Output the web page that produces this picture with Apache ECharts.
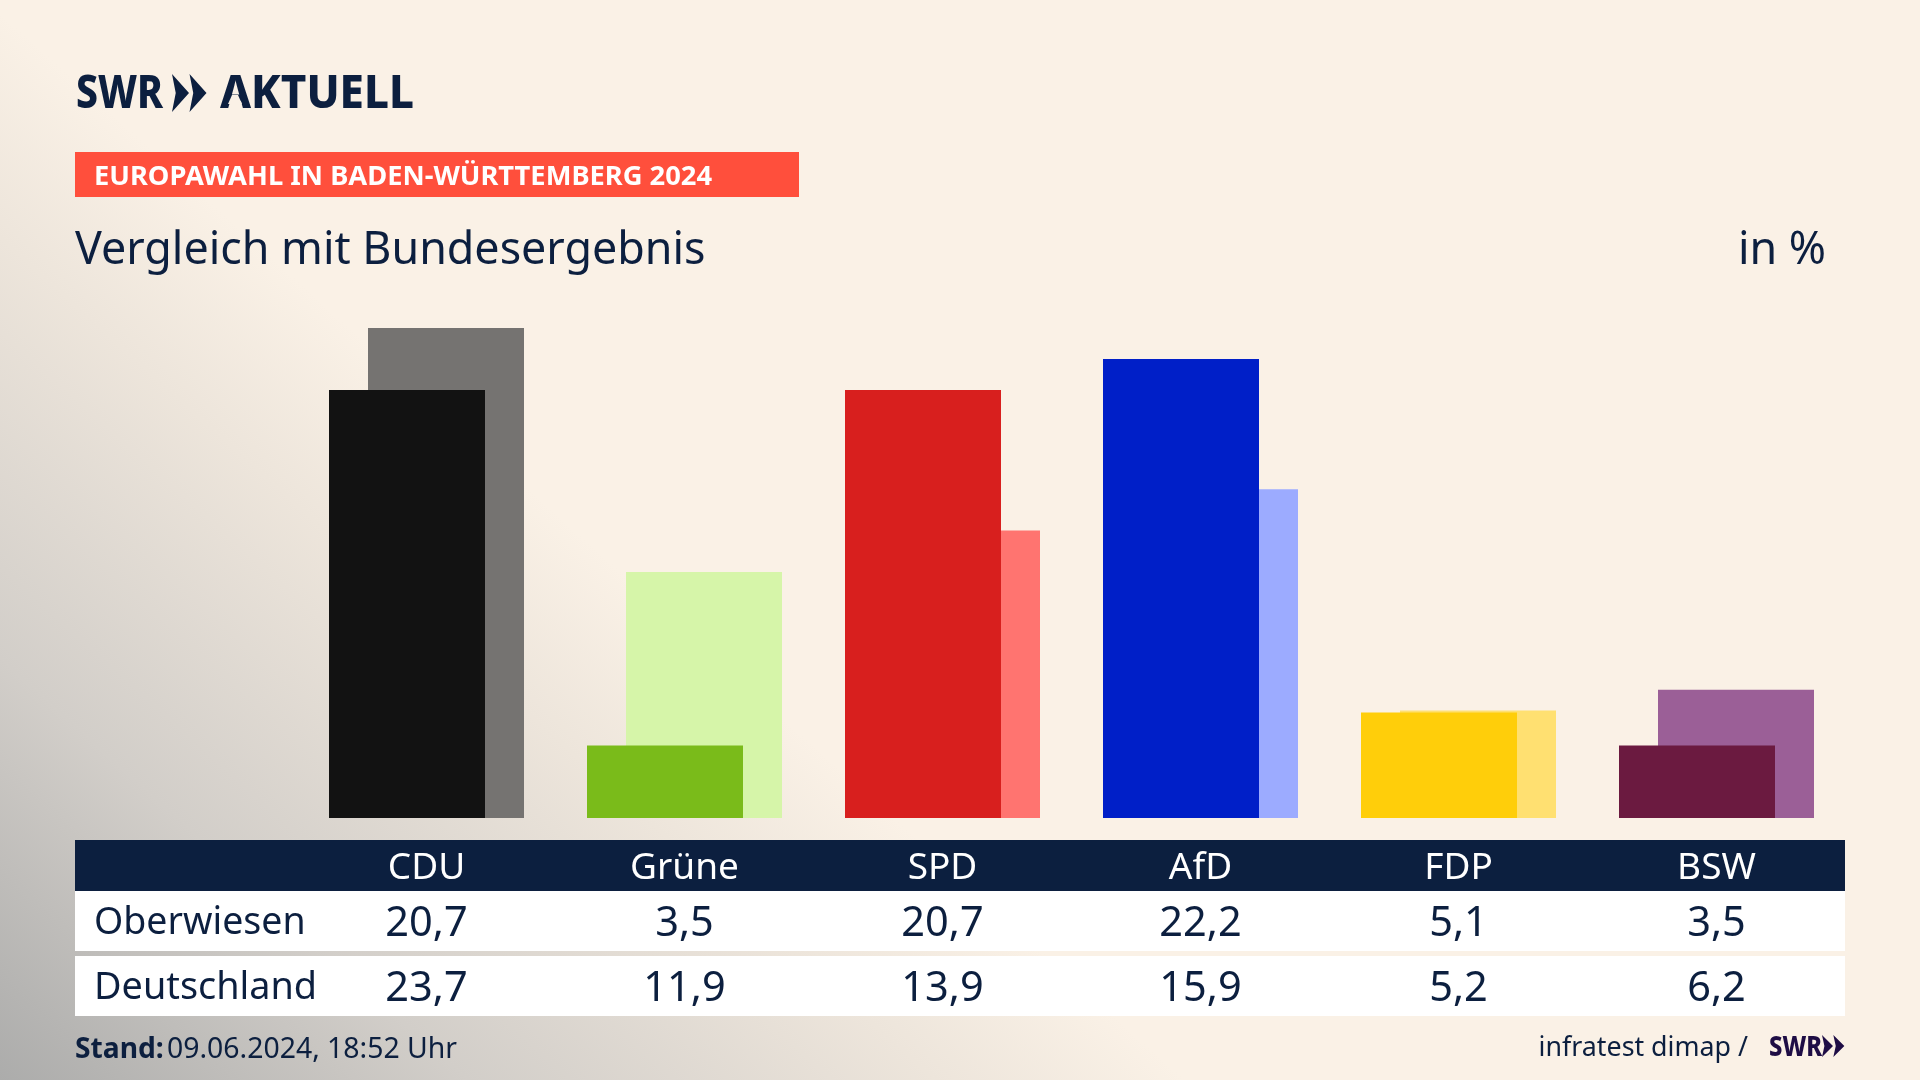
<!DOCTYPE html>
<html><head><meta charset="utf-8">
<script src="https://cdn.jsdelivr.net/npm/echarts@6/dist/echarts.min.js"></script>
<style>
html,body{margin:0;padding:0;width:1920px;height:1080px;overflow:hidden;
background:linear-gradient(222deg,#faf1e6 0%,#faf1e6 62%,#ede5db 70%,#d2cec9 85%,#acacab 100%);}
#c{width:1920px;height:1080px;}
</style></head><body><div id="c"></div>
<script>
const parties=['CDU','Grüne','SPD','AfD','FDP','BSW'];
const oberwiesen=[20.7,3.5,20.7,22.2,5.1,3.5];
const deutschland=[23.7,11.9,13.9,15.9,5.2,6.2];
const darkColors=['#121212','#7abb1a','#d81f1e','#001fc8','#ffce0a','#6b1a40'];
const lightColors=['#757371','#d6f5a9','#ff7470','#9cabff','#ffe071','#9b5f97'];
const rowNames=['Oberwiesen','Deutschland'];
const navy='#0c1f3f';
const font='"Noto Sans"';
const fmt=v=>v.toFixed(1).replace('.',',');
const colored=(vals,cols)=>vals.map((v,i)=>({value:v,itemStyle:{color:cols[i]}}));
const labelAxis=(data,offset,color,size)=>({type:'category',data,position:'bottom',offset,gridIndex:0,
  axisLine:{show:false},axisTick:{show:false},splitLine:{show:false},
  axisLabel:{show:true,interval:0,margin:0,verticalAlign:'middle',color,fontFamily:font,fontSize:size,hideOverlap:false}});
const txt=(x,y,text,size,weight,color,align,extra)=>Object.assign({type:'text',x,y,z:5,
  style:{text,fontFamily:font,fontSize:size,fontWeight:weight,fill:color,align:align||'left',verticalAlign:'middle'}},extra||{});
const rect=(x,y,w,h,fill)=>({type:'rect',z:-5,shape:{x,y,width:w,height:h},style:{fill}});
const chevrons=(x,y,h,w,fill)=>[0,1].map(i=>({type:'polygon',z:5,shape:{points:[[x+i*w*1.03,y],[x+i*w*1.03+w,y+h/2],[x+i*w*1.03,y+h],[x+i*w*1.03+w*0.22,y+h/2]]},style:{fill}}));
const chart=echarts.init(document.getElementById('c'),null,{renderer:'canvas'});
chart.setOption({
  animation:false,
  grid:{left:297.5,right:74.5,top:301,bottom:262},
  xAxis:[labelAxis(parties,50.5,'#ffffff',37),labelAxis(oberwiesen.map(fmt),106.5,navy,41.5),labelAxis(deutschland.map(fmt),171.5,navy,41.5)],
  yAxis:{type:'value',min:0,max:25,show:false,splitLine:{show:false}},
  series:[
    {name:rowNames[0],type:'bar',z:3,xAxisIndex:0,barWidth:156,barGap:'-75%',data:colored(oberwiesen,darkColors)},
    {name:rowNames[1],type:'bar',z:2,xAxisIndex:0,barWidth:156,barGap:'-75%',data:colored(deutschland,lightColors)}
  ],
  graphic:{elements:[
    rect(75,152,724,45,'#ff4f3c'),
    rect(75,840,1770,51,navy),
    rect(75,891,1770,60,'#ffffff'),
    rect(75,956,1770,60,'#ffffff'),
    txt(76,95,'SWR',46,800,navy,'left',{scaleX:0.85}),
    ...chevrons(172,74,38,17,navy),
    txt(220,95,'AKTUELL',46,800,navy,'left',{scaleX:0.955}),
    {type:'polygon',z:6,shape:{points:[[232,95],[238,95],[242,104],[228,104]]},style:{fill:'#faf1e6'}},
    txt(94,177,'EUROPAWAHL IN BADEN-WÜRTTEMBERG 2024',27.3,700,'#ffffff'),
    txt(75,251.5,'Vergleich mit Bundesergebnis',44.8,400,navy),
    txt(1826,251.5,'in %',44.8,400,navy,'right'),
    txt(94,923.5,rowNames[0],37.5,400,navy),
    txt(94,988.5,rowNames[1],37.8,400,navy),
    txt(75,1049.5,'Stand:',28.2,700,navy),
    txt(167,1049.5,'09.06.2024, 18:52 Uhr',28.4,400,navy),
    txt(1748,1048.5,'infratest dimap /',26.8,400,navy,'right'),
    txt(1769,1048,'SWR',28,800,'#1e0d45','left',{scaleX:0.85}),
    ...chevrons(1822,1035,22,11,'#1e0d45')
  ]}
});
</script></body></html>
